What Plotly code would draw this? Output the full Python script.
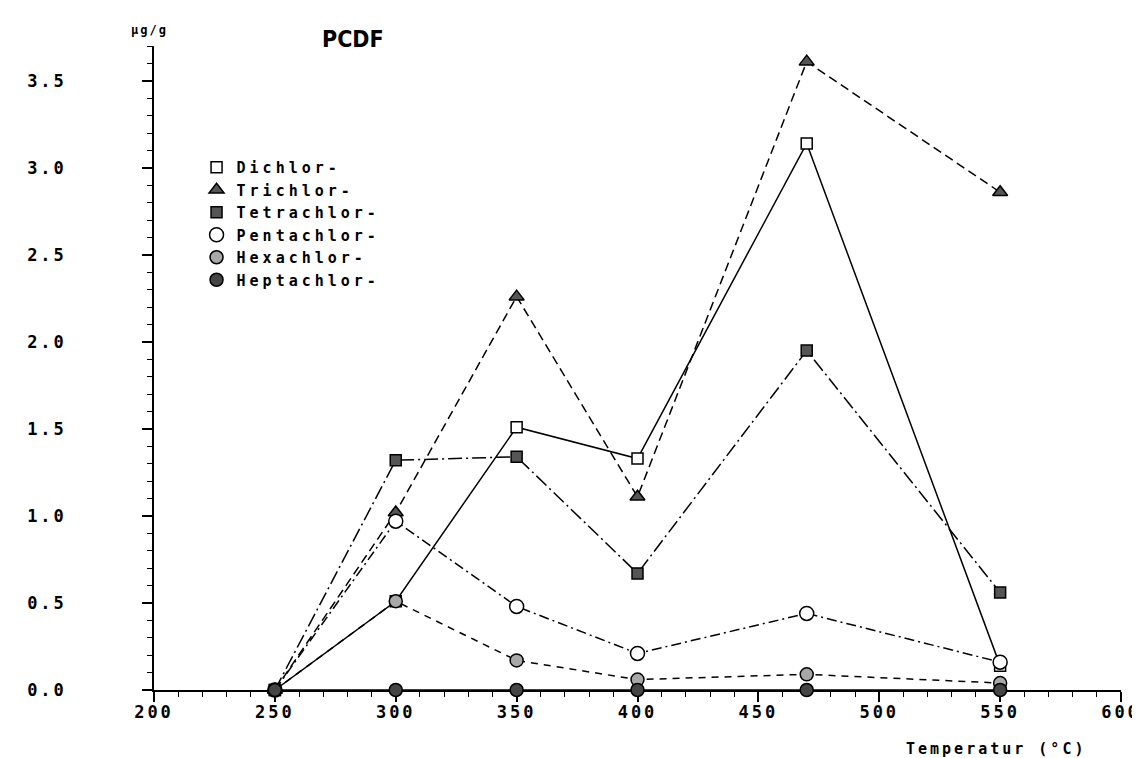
import plotly.graph_objects as go

# ---- data ----
temperatures = [250, 300, 350, 400, 470, 550]
dichlor = [0.0, 0.51, 1.51, 1.33, 3.14, 0.14]
trichlor = [0.0, 1.02, 2.26, 1.11, 3.61, 2.86]
tetrachlor = [0.0, 1.32, 1.34, 0.67, 1.95, 0.56]
pentachlor = [0.0, 0.97, 0.48, 0.21, 0.44, 0.16]
hexachlor = [0.0, 0.51, 0.17, 0.06, 0.09, 0.04]
heptachlor = [0.0, 0.0, 0.0, 0.0, 0.0, 0.0]

series_names = ["Dichlor-", "Trichlor-", "Tetrachlor-", "Pentachlor-", "Hexachlor-", "Heptachlor-"]
x_tick_vals = [200, 250, 300, 350, 400, 450, 500, 550, 600]
x_tick_labels = ["200", "250", "300", "350", "400", "450", "500", "550", "600"]
y_tick_vals = [0.0, 0.5, 1.0, 1.5, 2.0, 2.5, 3.0, 3.5]
y_tick_labels = ["0.0", "0.5", "1.0", "1.5", "2.0", "2.5", "3.0", "3.5"]

# ---- styles ----
MONO = "DejaVu Sans Mono, Liberation Mono, monospace"


def spaced(t, px=3):
    return f'<span style="letter-spacing:{px}px">{t}</span>'


styles = [
    dict(dash="solid", symbol="square", fill="white", size=11),
    dict(dash="9px,5px", symbol="triangle-up", fill="#555555", size=13),
    dict(dash="14px,4px,2px,4px", symbol="square", fill="#555555", size=11),
    dict(dash="10px,4px,2px,4px", symbol="circle", fill="white", size=14),
    dict(dash="7px,6px", symbol="circle", fill="#a8a8a8", size=13),
    dict(dash="solid", symbol="circle", fill="#454545", size=13),
]
all_series = [dichlor, trichlor, tetrachlor, pentachlor, hexachlor, heptachlor]

fig = go.Figure()

# lines (not in legend)
for name, ys, st in zip(series_names, all_series, styles):
    fig.add_trace(go.Scatter(
        x=temperatures, y=ys, mode="lines", showlegend=False, hoverinfo="skip",
        line=dict(color="black", width=1.5, dash=st["dash"]), cliponaxis=False,
    ))

# markers (legend shows only the symbols)
for name, ys, st in zip(series_names, all_series, styles):
    fig.add_trace(go.Scatter(
        x=temperatures, y=ys, mode="markers", name=spaced(name, 4),
        marker=dict(symbol=st["symbol"], size=st["size"], color=st["fill"],
                    line=dict(color="black", width=1.5)),
        cliponaxis=False,
    ))

tickfont = dict(family=MONO, size=17, color="black", weight="bold")

fig.update_layout(
    width=1140, height=758, autosize=False,
    margin=dict(l=146, r=27, t=38, b=76),
    paper_bgcolor="white", plot_bgcolor="white",
    showlegend=True,
    legend=dict(x=0.044, y=(682 - 143) / 644, xanchor="left", yanchor="top",
                bgcolor="rgba(0,0,0,0)", itemwidth=30, tracegroupgap=0,
                font=dict(family=MONO, size=15, color="black", weight="bold")),
    xaxis=dict(
        range=[200, 600], showgrid=False, zeroline=False, automargin=False,
        showline=True, linecolor="black", linewidth=1.5, layer="below traces",
        ticks="outside", ticklen=10, tickwidth=1.5, tickcolor="black",
        tickvals=x_tick_vals, ticktext=[spaced(t) for t in x_tick_labels],
        tickfont=tickfont, ticklabelstandoff=-4,
        minor=dict(ticks="outside", ticklen=5, tickwidth=1.2, tickcolor="black",
                   dtick=10, tick0=200, showgrid=False),
    ),
    yaxis=dict(
        range=[0, 3.7], showgrid=False, zeroline=False, automargin=False,
        showline=True, linecolor="black", linewidth=1.5, layer="below traces",
        ticks="outside", ticklen=10, tickwidth=1.5, tickcolor="black",
        tickvals=y_tick_vals, ticktext=[spaced(t) for t in y_tick_labels],
        tickfont=tickfont, ticklabelstandoff=72,
        minor=dict(ticks="outside", ticklen=5, tickwidth=1.2, tickcolor="black",
                   dtick=0.1, tick0=0, showgrid=False),
    ),
    yaxis2=dict(
        overlaying="y", side="right", anchor="x", range=[0, 3.7], automargin=False,
        showgrid=False, zeroline=False, showticklabels=False,
        showline=True, linecolor="black", linewidth=1.5,
        ticks="inside", ticklen=10, tickwidth=1.5, tickcolor="black",
        tickvals=y_tick_vals,
        minor=dict(ticks="inside", ticklen=5, tickwidth=1.2, tickcolor="black",
                   dtick=0.1, tick0=0, showgrid=False),
    ),
    annotations=[
        dict(text="<b>PCDF</b>", xref="paper", yref="paper",
             x=(345 - 146) / 967, y=(682 - 31) / 644, xanchor="center", yanchor="middle",
             showarrow=False,
             font=dict(family="Liberation Sans Narrow, DejaVu Sans Condensed, Roboto", size=23, color="black")),
        dict(text=spaced("µg/g", 2), xref="paper", yref="paper",
             x=-0.005, y=(682 - 22) / 644, xanchor="center", yanchor="middle",
             showarrow=False,
             font=dict(family=MONO, size=12, color="black", weight="bold")),
        dict(text=spaced("Temperatur (°C)"), xref="paper", yref="paper",
             x=(1080 - 146) / 967, y=(682 - 741) / 644, xanchor="right", yanchor="middle",
             showarrow=False,
             font=dict(family=MONO, size=15, color="black", weight="bold")),
    ],
)

fig.write_html("out.html")
